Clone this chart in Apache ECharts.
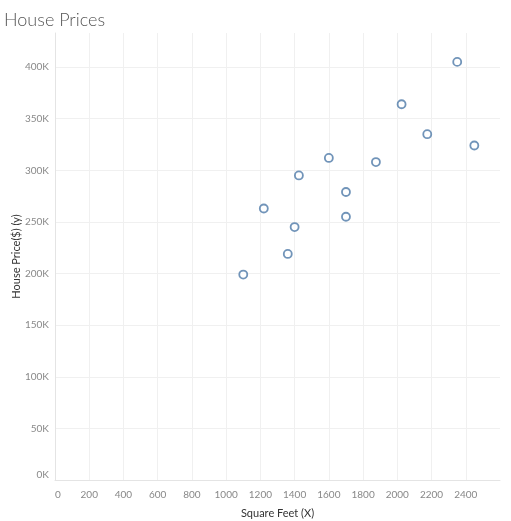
<!DOCTYPE html>
<html>
<head>
<meta charset="utf-8">
<script src="https://cdn.jsdelivr.net/npm/echarts@6/dist/echarts.min.js"></script>
<style>html,body{margin:0;padding:0;background:#fff}#c{width:511px;height:521px}</style>
</head>
<body>
<div id="c"></div>
<script>
const squareFeet = [1100, 1220, 1360, 1400, 1425, 1600, 1700, 1700, 1875, 2025, 2175, 2350, 2450];
const housePrice = [199000, 263000, 219000, 245000, 295000, 312000, 279000, 255000, 308000, 364000, 335000, 405000, 324000];
const xTicks = [0, 200, 400, 600, 800, 1000, 1200, 1400, 1600, 1800, 2000, 2200, 2400];
const yTicks = ['0K', '50K', '100K', '150K', '200K', '250K', '300K', '350K', '400K'];

const points = squareFeet.map((x, i) => [x, housePrice[i]]);
const font = 'Lato, "Open Sans", sans-serif';
const chart = echarts.init(document.getElementById('c'), null, {renderer: 'canvas'});
chart.setOption({
  animation: false,
  title: {
    text: 'House Prices', left: -1, top: 6,
    textStyle: {fontFamily: font, fontWeight: 300, fontSize: 18, color: '#555'}
  },
  grid: {left: 55, right: 11, top: 33, bottom: 41, outerBoundsMode: 'none', containLabel: false},
  xAxis: {
    type: 'value', min: 0, max: 2600, interval: 200, offset: 6,
    name: 'Square Feet (X)', nameLocation: 'middle', nameGap: 22, nameMoveOverlap: false,
    nameTextStyle: {fontFamily: font, fontSize: 11, color: '#333'},
    axisLine: {show: true, lineStyle: {color: '#e4e4e4'}},
    axisTick: {show: false},
    axisLabel: {fontFamily: font, fontSize: 10, color: '#888', margin: 4, showMaxLabel: false,
      alignMinLabel: 'left',
      formatter: v => xTicks.includes(v) ? String(v) : ''},
    splitLine: {show: true, showMaxLine: false, lineStyle: {color: '#f0f0f0'}}
  },
  yAxis: {
    type: 'value', min: 0, max: 433000, interval: 50000,
    name: 'House Price($) (y)', nameLocation: 'middle', nameGap: 33, nameMoveOverlap: false,
    nameTextStyle: {fontFamily: font, fontSize: 11, color: '#333'},
    axisLine: {show: true, lineStyle: {color: '#e4e4e4'}},
    axisTick: {show: false},
    axisLabel: {fontFamily: font, fontSize: 10, color: '#888', margin: 6, showMaxLabel: false,
      verticalAlignMinLabel: 'bottom',
      formatter: v => { const i = Math.round(v / 50000); return (v % 50000 === 0 && yTicks[i]) ? yTicks[i] : ''; }},
    splitLine: {show: true, showMaxLine: false, lineStyle: {color: '#f0f0f0'}}
  },
  series: [{
    type: 'scatter', data: points, symbol: 'circle', symbolSize: 8,
    itemStyle: {color: '#fff', borderColor: '#4e79a7', borderWidth: 1.8}
  }]
});
</script>
</body>
</html>
